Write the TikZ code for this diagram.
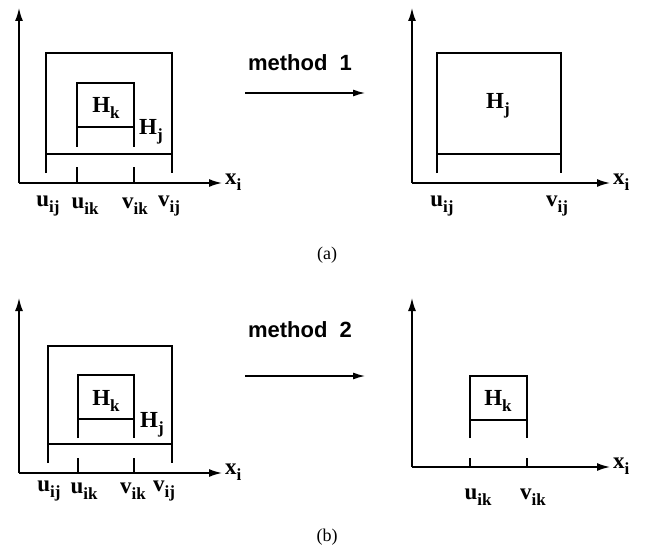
\documentclass[tikz,border=0pt]{standalone}
\usepackage{fontspec}
\setmainfont{Liberation Serif}
\setsansfont{Liberation Sans}
\usetikzlibrary{arrows.meta}
\newcommand\sublab[2]{\textbf{#1\raisebox{-0.55ex}{\fontsize{17}{17}\selectfont #2}}}
\tikzset{
  ln/.style={line width=1.6pt},
  ax/.style={line width=1.6pt,-{Latex[length=13pt,width=8pt]}},
  marr/.style={line width=1.3pt,-{Latex[length=12pt,width=7pt]}},
  lbl/.style={font=\fontsize{23}{23}\selectfont\bfseries, inner sep=0pt},
  meth/.style={font=\fontsize{22}{22}\selectfont\sffamily\bfseries, inner sep=0pt},
  capt/.style={font=\fontsize{18}{18}\selectfont, inner sep=0pt}
}
\begin{document}
\begin{tikzpicture}[x=1pt,y=-1pt]
\useasboundingbox (0,0) rectangle (645,559);
% ---------- (a) left ----------
\coordinate (aO) at (19,183);
\coordinate (aY) at (19,8);
\coordinate (aX) at (222,183);
\draw[ax] (aO) -- (aY);
\draw[ax] (aO) -- (aX);
\draw[ln] (46,173) -- (46,53) -- (172,53) -- (172,173);
\draw[ln] (46,154) -- (172,154);
\draw[ln] (77,147) -- (77,83) -- (134,83) -- (134,147);
\draw[ln] (77,127) -- (134,127);
\draw[ln] (77,167) -- (77,183);
\draw[ln] (134,167) -- (134,183);
\node[lbl] (aHk) at (106,108) {\sublab{H}{k}};
\node[lbl] (aHj) at (151,132) {\sublab{H}{j}};
\node[lbl] (aUij) at (48,206) {\sublab{u}{ij}};
\node[lbl] (aUik) at (85,206) {\sublab{u}{ik}};
\node[lbl] (aVik) at (135,206) {\sublab{v}{ik}};
\node[lbl] (aVij) at (169,206) {\sublab{v}{ij}};
\node[lbl,anchor=west] (aXi) at (225,182) {\sublab{x}{i}};
% method 1
\node[meth] (m1) at (300,63) {method\ \ 1};
\coordinate (m1s) at (245,93);
\coordinate (m1e) at (365,93);
\draw[marr] (m1s) -- (m1e);
% ---------- (a) right ----------
\coordinate (bO) at (412,183);
\coordinate (bY) at (412,8);
\coordinate (bX) at (610,183);
\draw[ax] (bO) -- (bY);
\draw[ax] (bO) -- (bX);
\draw[ln] (437,173) -- (437,53) -- (561,53) -- (561,173);
\draw[ln] (437,154) -- (561,154);
\node[lbl] (bHj) at (498,106) {\sublab{H}{j}};
\node[lbl] (bUij) at (442,206) {\sublab{u}{ij}};
\node[lbl] (bVij) at (557,206) {\sublab{v}{ij}};
\node[lbl,anchor=west] (bXi) at (613,182) {\sublab{x}{i}};
\node[capt] (capa) at (327,255) {(a)};
% ---------- (b) left ----------
\coordinate (cO) at (19,473);
\coordinate (cY) at (19,298);
\coordinate (cX) at (222,473);
\draw[ax] (cO) -- (cY);
\draw[ax] (cO) -- (cX);
\draw[ln] (48,463) -- (48,346) -- (172,346) -- (172,463);
\draw[ln] (48,444) -- (172,444);
\draw[ln] (78,438) -- (78,375) -- (134,375) -- (134,438);
\draw[ln] (78,419) -- (134,419);
\draw[ln] (78,458) -- (78,473);
\draw[ln] (134,458) -- (134,473);
\node[lbl] (cHk) at (106,401) {\sublab{H}{k}};
\node[lbl] (cHj) at (152,425) {\sublab{H}{j}};
\node[lbl] (cUij) at (49,491) {\sublab{u}{ij}};
\node[lbl] (cUik) at (84,491) {\sublab{u}{ik}};
\node[lbl] (cVik) at (133,491) {\sublab{v}{ik}};
\node[lbl] (cVij) at (164,491) {\sublab{v}{ij}};
\node[lbl,anchor=west] (cXi) at (225,472) {\sublab{x}{i}};
% method 2
\node[meth] (m2) at (300,330) {method\ \ 2};
\coordinate (m2s) at (245,376);
\coordinate (m2e) at (365,376);
\draw[marr] (m2s) -- (m2e);
% ---------- (b) right ----------
\coordinate (dO) at (412,467);
\coordinate (dY) at (412,298);
\coordinate (dX) at (610,467);
\draw[ax] (dO) -- (dY);
\draw[ax] (dO) -- (dX);
\draw[ln] (470,438) -- (470,376) -- (527,376) -- (527,438);
\draw[ln] (470,420) -- (527,420);
\draw[ln] (470,458) -- (470,467);
\draw[ln] (527,458) -- (527,467);
\node[lbl] (dHk) at (498,401) {\sublab{H}{k}};
\node[lbl] (dUik) at (478,497) {\sublab{u}{ik}};
\node[lbl] (dVik) at (533,497) {\sublab{v}{ik}};
\node[lbl,anchor=west] (dXi) at (613,466) {\sublab{x}{i}};
\node[capt] (capb) at (327,537) {(b)};
\end{tikzpicture}
\end{document}
